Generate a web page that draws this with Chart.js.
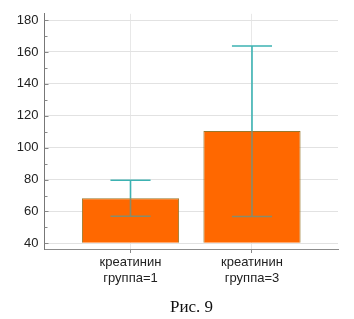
<!DOCTYPE html>
<html>
<head>
<meta charset="utf-8">
<script src="https://cdn.jsdelivr.net/npm/chart.js@4/dist/chart.umd.min.js"></script>
<style>
  body { margin: 0; background: #fff; }
  #wrap { position: relative; width: 354px; height: 319px; }
  #caption { position: absolute; left: 0; width: 383px; top: 297px; text-align: center;
             font: 17px "Liberation Serif", "Times New Roman", serif; color: #111; }
</style>
</head>
<body>
<div id="wrap">
  <canvas id="myChart" width="354" height="319"></canvas>
  <div id="caption">Рис. 9</div>
</div>
<script>
// data
let categories = [['креатинин', 'группа=1'], ['креатинин', 'группа=3']];
let means = [68.2, 110.5];
let errLow = [57.0, 56.8];
let errHigh = [79.6, 163.8];
let yTicks = [40, 50, 60, 70, 80, 90, 100, 110, 120, 130, 140, 150, 160, 170, 180];

let ctx = document.getElementById('myChart').getContext('2d');

// error bars + inner tick marks on the y axis
let extras = {
  id: 'extras',
  afterDatasetsDraw(chart) {
    let c = chart.ctx, xs = chart.scales.x, ys = chart.scales.y;
    c.save();
    c.lineWidth = 1.6;
    means.forEach((m, i) => {
      let x = xs.getPixelForValue(i);
      let hw = xs.getPixelForValue(i + 0.165) - x;
      let yHi = ys.getPixelForValue(errHigh[i]);
      let yLo = ys.getPixelForValue(errLow[i]);
      let yM = ys.getPixelForValue(m);
      c.strokeStyle = '#3cb2b2';
      c.beginPath();
      c.moveTo(x, yM); c.lineTo(x, yHi);
      c.moveTo(x - hw, yHi); c.lineTo(x + hw, yHi);
      c.stroke();
      c.strokeStyle = '#868c6c';
      c.beginPath();
      c.moveTo(x, yM); c.lineTo(x, yLo);
      c.moveTo(x - hw, yLo); c.lineTo(x + hw, yLo);
      c.stroke();
    });
    // small ticks inside the plot
    c.strokeStyle = '#888';
    c.lineWidth = 1;
    yTicks.forEach(v => {
      let y = Math.round(ys.getPixelForValue(v)) + 0.5;
      let len = v % 20 === 0 ? 4 : 3;
      c.beginPath();
      c.moveTo(xs.left, y); c.lineTo(xs.left + len, y);
      c.stroke();
    });
    c.restore();
  }
};

let barChart = new Chart(ctx, {
  type: 'bar',
  data: {
    datasets: [{
      data: means.map((m, i) => ({ x: i, y: m })),
      base: 40,
      backgroundColor: '#ff6800',
      borderColor: '#98782c',
      borderWidth: 1,
      categoryPercentage: 1,
      barPercentage: 0.8
    }]
  },
  options: {
    responsive: false,
    animation: false,
    layout: { padding: { top: 12, right: 16, left: 0, bottom: 0 } },
    plugins: { legend: { display: false }, tooltip: { enabled: false } },
    scales: {
      x: {
        type: 'linear',
        offset: false,
        min: -0.708,
        max: 1.708,
        afterBuildTicks: s => { s.ticks = categories.map((c, i) => ({ value: i })); },
        afterFit: s => { s.height = 70; },
        ticks: {
          callback: v => categories[v],
          font: { family: 'Liberation Sans', size: 13, lineHeight: 1.25 },
          color: '#222',
          padding: 1,
          maxRotation: 0
        },
        grid: { offset: false, color: '#e8e8e8', tickColor: '#888', tickLength: 4 },
        border: { color: '#8c8c8c' }
      },
      y: {
        min: 36.45,
        max: 183.95,
        afterBuildTicks: s => { s.ticks = yTicks.map(v => ({ value: v })); },
        afterFit: s => { s.width = 44.5; },
        ticks: {
          callback: v => (v % 20 === 0 ? v : ''),
          font: { family: 'Liberation Sans', size: 13 },
          color: '#222',
          padding: 6
        },
        grid: {
          color: c => (c.tick && c.tick.value % 20 === 0 ? '#e2e2e2' : 'rgba(0,0,0,0)'),
          drawTicks: false
        },
        border: { color: '#777' }
      }
    }
  },
  plugins: [extras]
});
</script>
</body>
</html>
